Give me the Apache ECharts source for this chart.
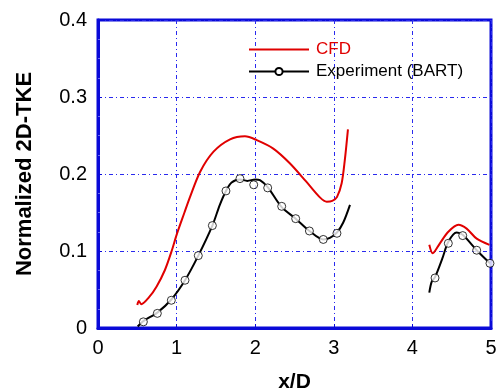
<!DOCTYPE html>
<html>
<head>
<meta charset="utf-8">
<script src="https://cdn.jsdelivr.net/npm/echarts@6/dist/echarts.min.js"></script>
<style>
  html, body { margin: 0; padding: 0; background: #fff; }
  #chart { width: 502px; height: 388px; }
</style>
</head>
<body>
<div id="chart"></div>
<script>
// 轴刻度
let xTicks = [0, 1, 2, 3, 4, 5];
let yTicks = [0, 0.1, 0.2, 0.3, 0.4];

// CFD 曲线 (两段)
let cfdX1 = [0.50, 0.52, 0.55, 0.65, 0.746, 0.85, 0.937, 1.0, 1.1, 1.17, 1.30, 1.47, 1.68, 1.87, 2.02, 2.23, 2.44, 2.65, 2.82, 2.91, 2.98, 3.04, 3.10, 3.14, 3.18];
let cfdY1 = [0.030, 0.035, 0.031, 0.040, 0.054, 0.075, 0.100, 0.121, 0.150, 0.170, 0.203, 0.229, 0.245, 0.249, 0.244, 0.233, 0.214, 0.190, 0.170, 0.164, 0.165, 0.170, 0.188, 0.218, 0.258];
let cfdX2 = [4.215, 4.258, 4.35, 4.457, 4.585, 4.69, 4.818, 4.98];
let cfdY2 = [0.108, 0.097, 0.110, 0.125, 0.134, 0.129, 0.116, 0.108];

// 实验拟合线 (两段)
let fitX1 = [0.505, 0.577, 0.755, 0.933, 1.107, 1.276, 1.455, 1.55, 1.628, 1.70, 1.806, 1.90, 2.0, 2.06, 2.159, 2.337, 2.515, 2.69, 2.866, 2.95, 3.04, 3.12, 3.206];
let fitY1 = [0.002, 0.009, 0.020, 0.037, 0.062, 0.094, 0.133, 0.160, 0.178, 0.189, 0.193, 0.191, 0.193, 0.192, 0.183, 0.157, 0.142, 0.126, 0.115, 0.117, 0.124, 0.137, 0.160];
let fitX2 = [4.215, 4.245, 4.288, 4.38, 4.457, 4.563, 4.64, 4.818, 4.987];
let fitY2 = [0.046, 0.060, 0.066, 0.090, 0.112, 0.124, 0.121, 0.101, 0.084];

// 实验数据点
let expX = [0.577, 0.755, 0.933, 1.107, 1.276, 1.455, 1.628, 1.806, 1.981, 2.159, 2.337, 2.515, 2.69, 2.866, 3.04, 4.288, 4.457, 4.64, 4.818, 4.987];
let expY = [0.008, 0.019, 0.036, 0.062, 0.094, 0.133, 0.178, 0.194, 0.186, 0.182, 0.158, 0.142, 0.126, 0.115, 0.123, 0.065, 0.110, 0.120, 0.101, 0.084];

function pairs(xs, ys) {
  return xs.map((x, i) => [x, ys[i]]);
}

let blue = "#0a0ad8";
let font = "Liberation Sans";

let myChart = echarts.init(document.getElementById("chart"));

let cfdStyle = {
  type: "line",
  name: "CFD",
  symbol: "none",
  smooth: 0.3,
  lineStyle: { color: "#e00000", width: 2 },
  itemStyle: { color: "#e00000" },
};
let fitStyle = {
  type: "line",
  name: "Experiment (BART)",
  symbol: "circle",
  symbolSize: 8,
  showSymbol: false,
  smooth: 0.3,
  lineStyle: { color: "#000", width: 2 },
  itemStyle: { color: "#fff", borderColor: "#000", borderWidth: 1 },
};

myChart.setOption({
  animation: false,
  grid: {
    left: 98,
    right: 11,
    top: 20,
    bottom: 60,
    // ? 固定绘图区, 不因轴名而收缩
    outerBoundsMode: "none",
    show: true,
    borderColor: blue,
    borderWidth: 3,
  },
  legend: {
    orient: "vertical",
    left: 243,
    top: 36,
    itemWidth: 60,
    itemHeight: 9,
    itemGap: 5,
    textStyle: { fontFamily: font, fontSize: 17, color: "#000", padding: [0, 0, 0, 2] },
    data: [
      // ? 图例里 CFD 只画线, 不画点
      { name: "CFD", textStyle: { color: "#e00000" }, itemStyle: { color: "rgba(0,0,0,0)", borderWidth: 0 } },
      { name: "Experiment (BART)" },
    ],
  },
  xAxis: {
    type: "value",
    min: xTicks[0],
    max: xTicks[xTicks.length - 1],
    interval: 1,
    name: "x/D",
    nameLocation: "middle",
    nameGap: 44,
    nameTextStyle: { fontFamily: font, fontSize: 21, fontWeight: "bold", color: "#000" },
    axisLine: { lineStyle: { color: blue, width: 3 } },
    axisTick: { inside: true, length: 4, lineStyle: { color: blue } },
    axisLabel: { fontFamily: font, fontSize: 20, color: "#000", margin: 10 },
    splitLine: {
      lineStyle: { color: "#2a2aee", width: 1, type: [4, 3, 1, 3] },
    },
  },
  yAxis: {
    type: "value",
    min: yTicks[0],
    max: yTicks[yTicks.length - 1],
    interval: 0.1,
    name: "Normalized 2D-TKE",
    nameLocation: "middle",
    nameGap: 62,
    nameTextStyle: { fontFamily: font, fontSize: 22, fontWeight: "bold", color: "#000" },
    axisLine: { show: true, lineStyle: { color: blue, width: 3 } },
    axisTick: { show: true, inside: true, length: 4, lineStyle: { color: blue } },
    minorTick: { show: true, splitNumber: 4, length: 2, lineStyle: { color: "#6a6aee" } },
    axisLabel: {
      fontFamily: font,
      fontSize: 20,
      color: "#000",
      margin: 11,
      formatter: (v) => (v === 0 ? "0" : v.toFixed(1)),
    },
    splitLine: {
      lineStyle: { color: "#2a2aee", width: 1, type: [4, 3, 1, 3] },
    },
  },
  series: [
    Object.assign({}, cfdStyle, { data: pairs(cfdX1, cfdY1) }),
    Object.assign({}, cfdStyle, { data: pairs(cfdX2, cfdY2) }),
    Object.assign({}, fitStyle, { data: pairs(fitX1, fitY1) }),
    Object.assign({}, fitStyle, { data: pairs(fitX2, fitY2) }),
    {
      type: "scatter",
      name: "Experiment (BART)",
      symbol: "circle",
      symbolSize: 8,
      clip: false,
      z: 5,
      itemStyle: { color: "#fff", borderColor: "#000", borderWidth: 1 },
      data: pairs(expX, expY),
    },
  ],
});

window.addEventListener("resize", () => {
  myChart.resize();
});
</script>
</body>
</html>
